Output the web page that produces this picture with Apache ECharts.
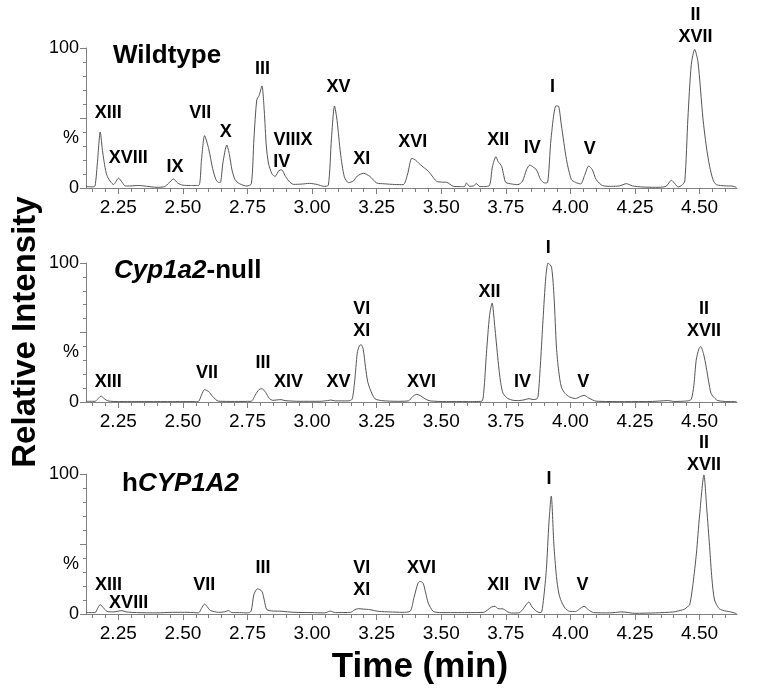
<!DOCTYPE html>
<html><head><meta charset="utf-8">
<script src="https://cdn.jsdelivr.net/npm/echarts@6/dist/echarts.min.js"></script>
<style>html,body{margin:0;padding:0;background:#fff}#c{width:757px;height:693px}</style>
</head><body><div id="c"></div>
<script>
// ---- data ----
const panelTitles = ['{b|Wildtype}', '{i|Cyp1a2}{b|-null}', '{b|h}{i|CYP1A2}'];
const xMin = 2.125, xMax = 4.645;
const majorTickLabels = ['2.25','2.50','2.75','3.00','3.25','3.50','3.75','4.00','4.25','4.50'];
const yLabelValues = [0, 36, 100];
const yLabelTexts = ['0', '%', '100'];

const wildtype = [
[2.126,1],[2.15,0.8],[2.16,1.5],[2.17,20],[2.180,40],[2.19,25],[2.206,9],[2.232,2.5],[2.251,7],[2.265,4],[2.277,1.4],[2.30,1.5],[2.33,1.8],[2.36,1.2],[2.40,0.5],[2.43,1],[2.445,3.5],[2.464,6.4],[2.48,3.5],[2.50,2],[2.53,1.8],[2.561,1.8],[2.572,20],[2.584,37.4],[2.60,28],[2.615,14],[2.628,6],[2.638,4],[2.645,4],[2.655,18],[2.670,30.7],[2.68,24],[2.69,13],[2.702,6],[2.72,3],[2.748,1.4],[2.765,3],[2.775,35],[2.786,62.9],[2.795,66],[2.806,72.9],[2.815,55],[2.823,30],[2.831,17.9],[2.845,10],[2.857,8.3],[2.872,12.5],[2.883,12.9],[2.895,9],[2.91,5],[2.928,2.6],[2.96,2.8],[2.99,3.3],[3.02,2.5],[3.045,1.2],[3.063,2],[3.075,35],[3.087,58.6],[3.097,48],[3.11,25],[3.125,8],[3.141,3.8],[3.16,5],[3.175,8.5],[3.199,10.5],[3.224,8.3],[3.25,3.6],[3.28,3],[3.32,2.5],[3.353,2.4],[3.37,10],[3.386,21.2],[3.40,20],[3.412,17.9],[3.43,15],[3.45,12],[3.465,8.5],[3.482,4.8],[3.50,4.2],[3.521,4.1],[3.547,1.2],[3.575,1],[3.590,1],[3.598,3.6],[3.61,1.2],[3.625,1.5],[3.636,3.1],[3.65,1],[3.685,1.5],[3.698,15],[3.712,22.4],[3.72,19],[3.734,15.5],[3.742,9],[3.75,4],[3.775,2.8],[3.797,2.4],[3.815,5],[3.83,13],[3.843,16.4],[3.856,15],[3.869,12.9],[3.885,6],[3.90,3.6],[3.912,4],[3.925,35],[3.944,58.6],[3.953,58.6],[3.965,45],[3.985,20.2],[4.004,6],[4.02,4],[4.04,2.9],[4.055,9],[4.071,15.7],[4.085,13],[4.10,6],[4.125,1.7],[4.16,1.2],[4.19,1.5],[4.217,3.1],[4.24,1.5],[4.28,0.7],[4.33,0.5],[4.37,1.2],[4.391,5.5],[4.405,3],[4.417,0.7],[4.432,2],[4.443,5],[4.455,50],[4.468,88],[4.481,99],[4.494,90],[4.513,50],[4.526,30],[4.539,15.5],[4.552,6],[4.565,2.4],[4.60,1.5],[4.625,1.4],[4.643,0.5]
];
const cyp1a2Null = [
[2.126,0.5],[2.16,0.5],[2.17,2],[2.183,4.3],[2.195,2.5],[2.21,0.8],[2.25,0.3],[2.35,0.3],[2.45,0.3],[2.55,0.3],[2.561,0.5],[2.572,5],[2.584,8.9],[2.60,7.5],[2.615,4],[2.638,0.6],[2.70,0.4],[2.764,0.5],[2.78,5],[2.795,9],[2.806,9.6],[2.82,7],[2.835,2.5],[2.848,1.2],[2.865,1.5],[2.88,1.7],[2.895,1],[2.95,0.5],[3.03,0.5],[3.06,1],[3.073,1.4],[3.09,0.8],[3.14,0.8],[3.155,2],[3.165,15],[3.175,35],[3.183,40.5],[3.19,41.2],[3.198,38],[3.207,25],[3.215,15],[3.224,9.6],[3.243,2.4],[3.27,1],[3.33,0.5],[3.373,0.8],[3.39,4],[3.405,5.5],[3.42,4.5],[3.44,2],[3.457,0.8],[3.52,0.3],[3.60,0.3],[3.656,0.5],[3.665,8],[3.675,34.8],[3.687,62],[3.697,71.2],[3.707,55],[3.72,30],[3.73,14],[3.74,6],[3.758,2.5],[3.779,1.2],[3.80,1],[3.82,1.5],[3.84,2.4],[3.855,1.8],[3.868,2],[3.875,4],[3.885,30],[3.894,58.8],[3.905,90],[3.914,100],[3.927,97],[3.937,75],[3.946,39.6],[3.955,22],[3.965,10.8],[3.98,6],[3.997,3.6],[4.02,2.5],[4.04,4],[4.053,4.8],[4.07,3],[4.10,0.6],[4.20,0.3],[4.30,0.3],[4.38,1],[4.40,0.4],[4.455,0.8],[4.468,2],[4.478,12],[4.487,30],[4.497,38],[4.504,40],[4.515,35],[4.526,25],[4.535,15],[4.545,6],[4.56,2.5],[4.571,1],[4.61,0.3],[4.643,0.3]
];
const hCYP1A2 = [
[2.126,1],[2.16,1],[2.17,4],[2.18,6.7],[2.192,4.5],[2.206,1.9],[2.23,1.5],[2.25,2],[2.264,2.4],[2.28,1.5],[2.32,1],[2.40,0.8],[2.46,1.2],[2.52,1.2],[2.56,0.8],[2.572,4],[2.584,7.1],[2.595,5],[2.606,2.6],[2.638,1.2],[2.66,1.5],[2.677,2.4],[2.69,1],[2.72,1],[2.75,0.8],[2.764,2],[2.775,14],[2.789,18],[2.806,16.2],[2.815,10],[2.825,3.1],[2.85,2.1],[2.88,2],[2.93,1.2],[3.00,1],[3.04,0.8],[3.055,1],[3.07,2.1],[3.09,1],[3.15,1.2],[3.165,3],[3.179,3.8],[3.20,3.5],[3.224,3.1],[3.26,1.8],[3.30,1.5],[3.35,1.2],[3.38,2],[3.395,12],[3.41,22],[3.418,23.3],[3.43,22],[3.44,15],[3.45,7.8],[3.469,1.9],[3.50,1],[3.60,1],[3.665,1.2],[3.68,3],[3.695,5],[3.708,5.5],[3.72,3.8],[3.74,3.6],[3.757,1.5],[3.772,0.7],[3.80,0.8],[3.815,3],[3.828,6.5],[3.839,8.6],[3.852,5],[3.869,1.9],[3.882,1],[3.889,1.5],[3.897,12],[3.907,31.6],[3.917,65],[3.926,84.3],[3.936,50],[3.946,26.8],[3.955,15],[3.965,9],[3.98,4],[3.997,1.9],[4.02,1.8],[4.035,3.5],[4.053,5.5],[4.07,3],[4.09,1],[4.15,0.8],[4.20,1.5],[4.25,0.5],[4.33,0.8],[4.40,1.5],[4.435,3],[4.443,3.6],[4.452,5],[4.462,6.7],[4.475,22],[4.488,43.5],[4.50,70],[4.517,99.3],[4.528,75],[4.539,48],[4.548,25],[4.558,10],[4.575,4],[4.59,2.6],[4.62,1.5],[4.643,0.3]
];

const wildtypeLabels = [
[2.211,53.6,'XIII'],[2.289,21.4,'XVIII'],[2.470,15,'IX'],[2.567,53.6,'VII'],[2.666,40,'X'],[2.808,85,'III'],[2.926,34.3,'VIIIX'],[2.883,18.6,'IV'],[3.102,72.4,'XV'],[3.192,20.7,'XI'],[3.39,33,'XVI'],[3.721,34.3,'XII'],[3.852,28.3,'IV'],[3.931,72,'I'],[4.075,27.9,'V'],[4.484,116,'II\nXVII']
];
const cyp1a2NullLabels = [
[2.211,14.4,'XIII'],[2.593,20.9,'VII'],[2.81,28,'III'],[2.909,14.4,'XIV'],[3.102,14.4,'XV'],[3.192,58.8,'VI\nXI'],[3.424,14.4,'XVI'],[3.687,79,'XII'],[3.815,14.4,'IV'],[3.914,111,'I'],[4.05,14.4,'V'],[4.517,58.8,'II\nXVII']
];
const hCYP1A2Labels = [
[2.212,20.4,'XIII'],[2.29,7.8,'XVIII'],[2.583,20.4,'VII'],[2.81,32.8,'III'],[3.192,25.2,'VI\nXI'],[3.424,32.8,'XVI'],[3.721,20.4,'XII'],[3.852,20.4,'IV'],[3.917,96.2,'I'],[4.047,20.4,'V'],[4.517,114.6,'II\nXVII']
];

// ---- chart ----
const traces = [wildtype, cyp1a2Null, hCYP1A2];
const peakLabels = [wildtypeLabels, cyp1a2NullLabels, hCYP1A2Labels];
const gridTops = [48, 263, 474];
const gridH = [140, 139, 140];
const titleTops = [43, 258, 471];
const titleLefts = [113, 114, 122];
const FONT = '"Liberation Sans", Arial, sans-serif';
const AX = '#808080';

const majorVals = majorTickLabels.map(Number);
const minorVals = [];
for (let k = 43; k <= 92; k++) minorVals.push(Math.round(k * 5) / 100);

const grids = [], xAxes = [], yAxes = [], series = [], titles = [];
for (let i = 0; i < 3; i++) {
  grids.push({left: 86, right: 20, top: gridTops[i], height: gridH[i]});
  xAxes.push({gridIndex: i, type: 'value', min: xMin, max: xMax,
    axisLine: {lineStyle: {color: AX, width: 1}},
    splitLine: {show: false},
    axisTick: {customValues: minorVals, length: 4, lineStyle: {color: AX}},
    axisLabel: {customValues: majorVals, formatter: v => v.toFixed(2), fontSize: 19, color: '#000', margin: 10, fontFamily: FONT}
  });
  xAxes.push({gridIndex: i, type: 'value', min: xMin, max: xMax, position: 'bottom',
    axisLine: {show: false}, splitLine: {show: false},
    axisTick: {customValues: majorVals, length: 6, lineStyle: {color: AX}},
    axisLabel: {show: false}
  });
  yAxes.push({gridIndex: i, type: 'value', min: 0, max: 100, position: 'left',
    axisLine: {show: true, lineStyle: {color: AX, width: 1}},
    splitLine: {show: false},
    axisTick: {show: true, customValues: [0,10,20,30,40,50,60,70,80,90,100], length: 3, lineStyle: {color: AX}},
    axisLabel: {customValues: yLabelValues, formatter: v => yLabelTexts[yLabelValues.indexOf(v)], fontSize: 18, color: '#000', margin: 7, fontFamily: FONT}
  });
  yAxes.push({gridIndex: i, type: 'value', min: 0, max: 100, position: 'left',
    axisLine: {show: false}, splitLine: {show: false},
    axisTick: {show: true, customValues: [0,50,100], length: 6, lineStyle: {color: AX}},
    axisLabel: {show: false}
  });
  series.push({type: 'line', xAxisIndex: 2*i, yAxisIndex: 2*i, data: traces[i], showSymbol: false,
    smooth: 0.25, lineStyle: {color: '#555', width: 1}, silent: true, animation: false});
  series.push({type: 'scatter', xAxisIndex: 2*i, yAxisIndex: 2*i, data: peakLabels[i], symbolSize: 0,
    clip: false, silent: true, animation: false, z: 5, itemStyle: {opacity: 1},
    label: {show: true, position: 'inside', formatter: p => p.value[2], fontSize: 18, fontWeight: 'bold',
      color: '#000', opacity: 1, fontFamily: FONT, lineHeight: 22}});
  titles.push({text: panelTitles[i], left: titleLefts[i], top: titleTops[i], padding: 0,
    textStyle: {rich: {
      b: {fontSize: 26, fontWeight: 'bold', fontFamily: FONT, color: '#000'},
      i: {fontSize: 26, fontWeight: 'bold', fontStyle: 'italic', fontFamily: FONT, color: '#000'}
    }}});
}

const chart = echarts.init(document.getElementById('c'), null, {renderer: 'canvas'});
chart.setOption({
  animation: false,
  backgroundColor: '#fff',
  title: titles,
  grid: grids, xAxis: xAxes, yAxis: yAxes, series: series,
  graphic: [
    {type: 'text', x: 26, y: 332, rotation: Math.PI / 2,
     style: {text: 'Relative Intensity', font: 'bold 33px ' + FONT, fill: '#000', textAlign: 'center', textVerticalAlign: 'middle'}},
    {type: 'text', x: 420, y: 667,
     style: {text: 'Time (min)', font: 'bold 35px ' + FONT, fill: '#000', textAlign: 'center', textVerticalAlign: 'middle'}}
  ]
});
</script></body></html>
